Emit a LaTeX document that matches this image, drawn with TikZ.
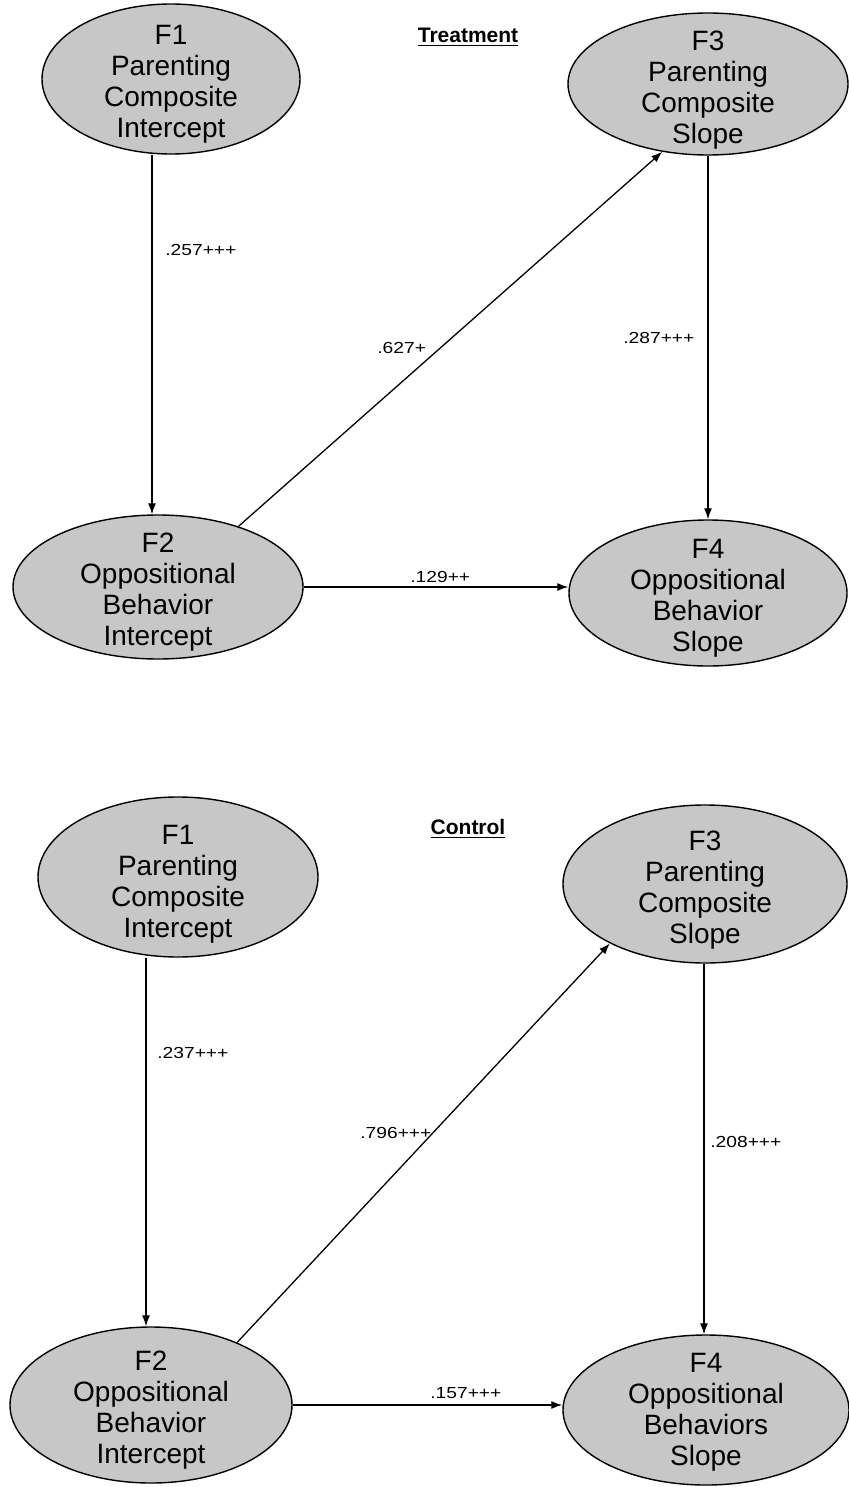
\documentclass[tikz,border=0pt]{standalone}
\usepackage{fontspec}
\setmainfont{Liberation Sans}
\usetikzlibrary{shapes.geometric,arrows.meta}

\newcommand{\coeftext}[1]{\scalebox{1.2}[1]{#1}}

\begin{document}
\begin{tikzpicture}[x=0.5pt,y=-0.5pt,
  factor/.style={ellipse, draw=black, line width=0.7pt, fill=black!22, inner sep=0pt},
  factext/.style={align=center, inner sep=0pt, font=\fontsize{14}{15.5}\selectfont},
  link/.style={-{Latex[length=5.5pt,width=4pt]}, line width=0.65pt},
  coef/.style={anchor=west, inner sep=0pt, font=\fontsize{8}{9}\selectfont},
  grouptitle/.style={inner sep=0pt, font=\bfseries\fontsize{10.5}{12}\selectfont}
]
\useasboundingbox (0,0) rectangle (849,1487);

% ---------- Treatment group ----------
\node[grouptitle] (tT) at (468,37) {\underline{Treatment}};

\node[factor, minimum width=129pt, minimum height=75pt] (tF1) at (171,79) {};
\node[factext] (tF1t) at (171,84) {F1\\Parenting\\Composite\\Intercept};

\node[factor, minimum width=140pt, minimum height=71pt] (tF3) at (708,84) {};
\node[factext] (tF3t) at (708,90) {F3\\Parenting\\Composite\\Slope};

\node[factor, minimum width=145pt, minimum height=72pt] (tF2) at (158,587) {};
\node[factext] (tF2t) at (158,592) {F2\\Oppositional\\Behavior\\Intercept};

\node[factor, minimum width=139pt, minimum height=73pt] (tF4) at (708,593) {};
\node[factext] (tF4t) at (708,598) {F4\\Oppositional\\Behavior\\Slope};

\coordinate (tx1) at (152,0);
\draw[link] (tF1.south -| tx1) -- (tF2.north -| tx1);
\draw[link] (tF3.south) -- (tF4.north);
\draw[link] (tF2.37) -- (tF3.236);
\draw[link] (tF2.east) -- (tF2.east -| tF4.west);

\node[coef] (tc12) at (165,250) {\coeftext{.257+++}};
\node[coef] (tc23) at (377,348) {\coeftext{.627+}};
\node[coef] (tc34) at (623,338) {\coeftext{.287+++}};
\node[coef] (tc24) at (410,577) {\coeftext{.129++}};

% ---------- Control group ----------
\node[grouptitle] (cT) at (468,829) {\underline{Control}};

\node[factor, minimum width=140pt, minimum height=80pt] (cF1) at (178,877) {};
\node[factext] (cF1t) at (178,884) {F1\\Parenting\\Composite\\Intercept};

\node[factor, minimum width=142pt, minimum height=79pt] (cF3) at (705,884) {};
\node[factext] (cF3t) at (705,890) {F3\\Parenting\\Composite\\Slope};

\node[factor, minimum width=141pt, minimum height=78pt] (cF2) at (151,1405) {};
\node[factext] (cF2t) at (151,1410) {F2\\Oppositional\\Behavior\\Intercept};

\node[factor, minimum width=143pt, minimum height=75pt] (cF4) at (706,1410) {};
\node[factext] (cF4t) at (706,1412) {F4\\Oppositional\\Behaviors\\Slope};

\coordinate (cx1) at (146,0);
\coordinate (cx3) at (704,0);
\draw[link] (cF1.south -| cx1) -- (cF2.north -| cx1);
\draw[link] (cF3.south -| cx3) -- (cF4.north -| cx3);
\draw[link] (cF2.36) -- (cF3.212);
\draw[link] (cF2.east) -- (cF2.east -| cF4.west);

\node[coef] (cc12) at (157,1053) {\coeftext{.237+++}};
\node[coef] (cc23) at (360,1133) {\coeftext{.796+++}};
\node[coef] (cc34) at (710,1142) {\coeftext{.208+++}};
\node[coef] (cc24) at (430,1393) {\coeftext{.157+++}};
\end{tikzpicture}
\end{document}
